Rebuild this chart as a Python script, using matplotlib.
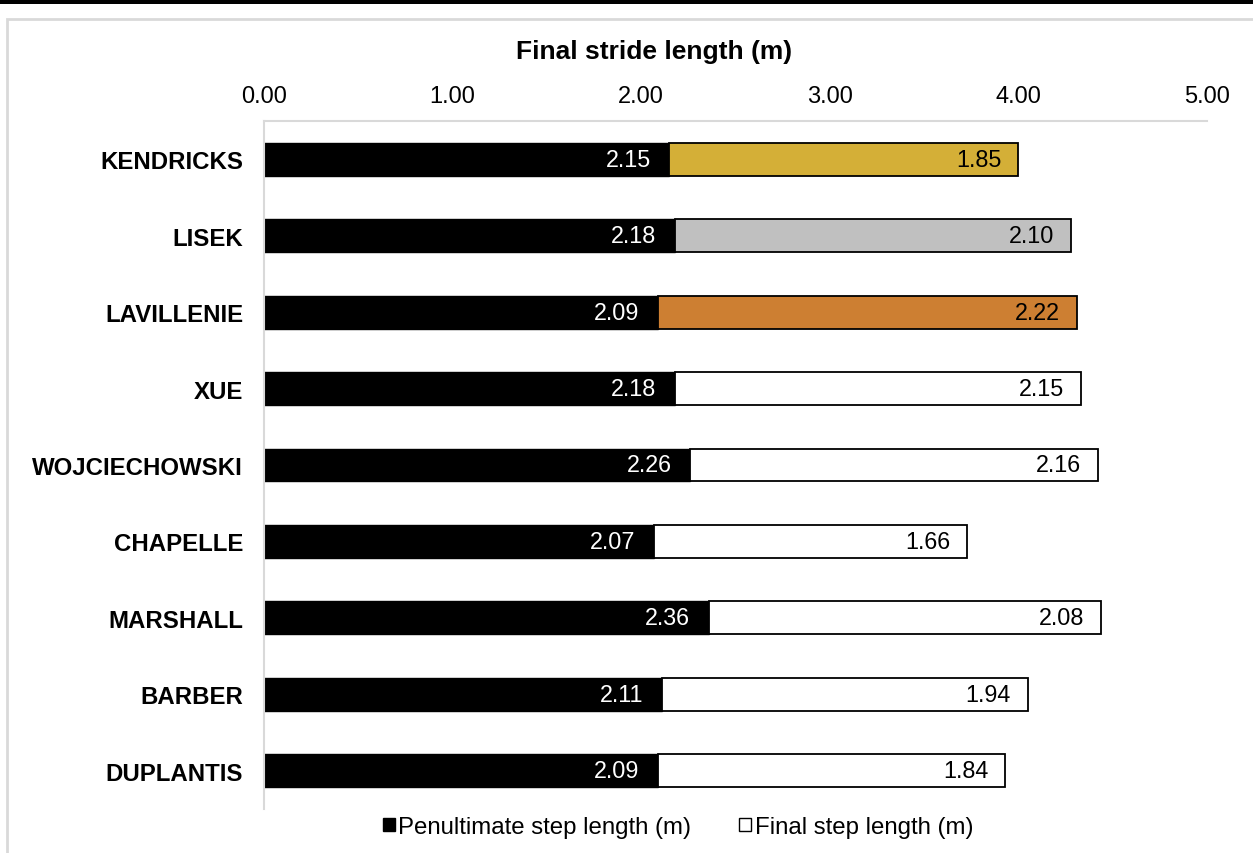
import numpy as np
import matplotlib.pyplot as plt
from matplotlib.patches import Patch, Rectangle

plt.rcParams['font.family'] = ['Liberation Sans', 'DejaVu Sans']

athletes = ['KENDRICKS', 'LISEK', 'LAVILLENIE', 'XUE', 'WOJCIECHOWSKI',
            'CHAPELLE', 'MARSHALL', 'BARBER', 'DUPLANTIS']
penultimate = [2.15, 2.18, 2.09, 2.18, 2.26, 2.07, 2.36, 2.11, 2.09]
final = [1.85, 2.10, 2.22, 2.15, 2.16, 1.66, 2.08, 1.94, 1.84]
final_colors = ['#D4AF37', '#C0C0C0', '#CD7F32'] + ['white'] * 6

fig = plt.figure(figsize=(12.53, 8.54), dpi=100)
ax = fig.add_axes([264/1253, 1-810/854, (1207-264)/1253, (810-122)/854])

y = np.arange(len(athletes))
h = 0.43
ax.barh(y, penultimate, height=h, color='black', edgecolor='black', linewidth=1)
ax.barh(y, final, left=penultimate, height=h, color=final_colors,
        edgecolor='black', linewidth=1.3)

for i in range(len(athletes)):
    p = penultimate[i]
    f = final[i]
    ax.text(p - 0.1, i, f'{p:.2f}', ha='right', va='center', color='white', fontsize=16.8)
    ax.text(p + f - 0.09, i, f'{f:.2f}', ha='right', va='center', color='black', fontsize=16.8)

ax.set_xlim(0, 5)
ax.set_ylim(len(athletes) - 0.5, -0.5)
ax.set_xticks(np.arange(0, 5.01, 1))
ax.set_xticklabels([f'{v:.2f}' for v in np.arange(0, 5.01, 1)], fontsize=17)
ax.xaxis.tick_top()
ax.tick_params(axis='x', length=0, pad=10)
ax.set_yticks(y)
ax.set_yticklabels(athletes, fontsize=17.3, fontweight='bold')
ax.tick_params(axis='y', length=0, pad=15)

for s in ['right', 'bottom']:
    ax.spines[s].set_visible(False)
for s in ['top', 'left']:
    ax.spines[s].set_color('#D9D9D9')
    ax.spines[s].set_linewidth(1.5)

fig.text(654/1253, 1-52/854, 'Final stride length (m)', ha='center', va='center',
         fontsize=19, fontweight='bold')

handles = [Patch(facecolor='black', edgecolor='black'),
           Patch(facecolor='white', edgecolor='black')]
fig.legend(handles, ['Penultimate step length (m)', 'Final step length (m)'],
           loc='center', bbox_to_anchor=(678/1253, 1-828/854), ncol=2, frameon=False,
           fontsize=17.3, handlelength=0.5, handleheight=0.5, handletextpad=0.15,
           columnspacing=2.0)

# outer chart frame and top black band
fig.patches.append(Rectangle((7/1253, -0.01), 1.0, 1-20/854 + 0.01, transform=fig.transFigure,
                             fill=False, edgecolor='#D9D9D9', linewidth=2))
fig.patches.append(Rectangle((0, 1-5/854), 1, 5/854, transform=fig.transFigure,
                             facecolor='black', edgecolor='none'))

fig.savefig('out.png', dpi=100)
